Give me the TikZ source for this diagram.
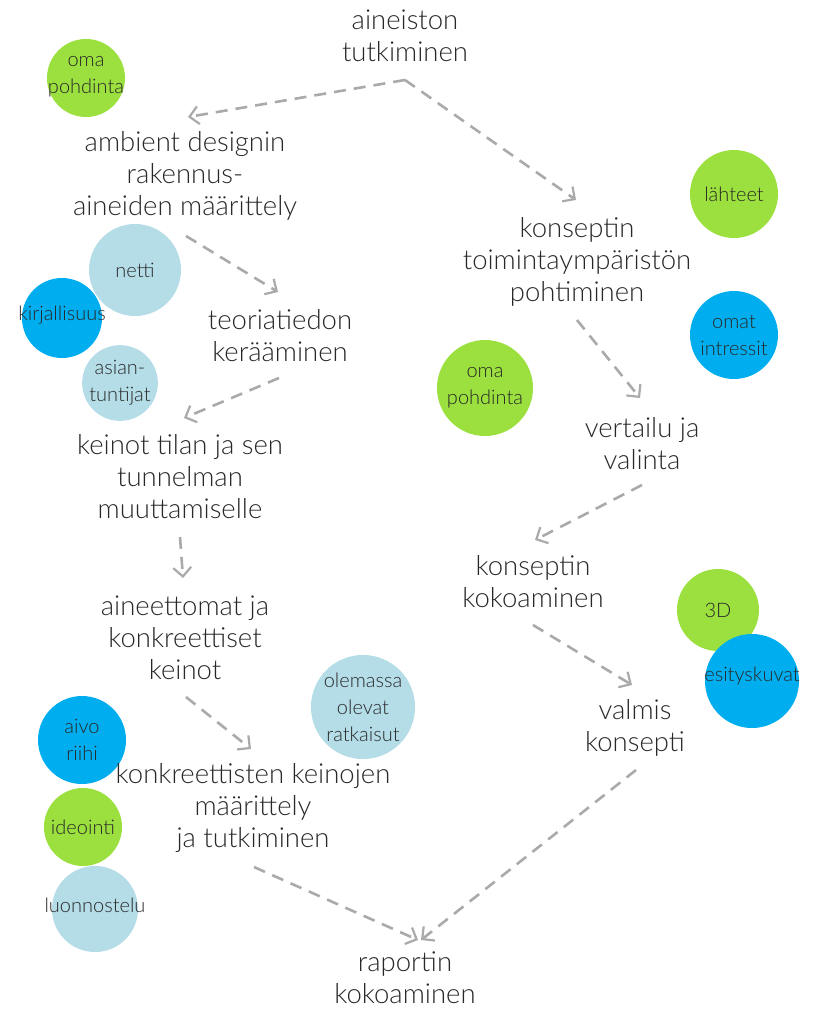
\documentclass[tikz,border=0pt]{standalone}
\usepackage{fontspec}
\setmainfont{Lato}[UprightFont=* Light]
\usetikzlibrary{arrows.meta}
\definecolor{leaf}{RGB}{155,224,62}
\definecolor{sky}{RGB}{0,174,239}
\definecolor{pale}{RGB}{181,221,232}
\definecolor{flow}{RGB}{170,170,170}
\definecolor{ink}{RGB}{40,40,40}
\begin{document}
\begin{tikzpicture}[x=1pt,y=-1pt,
  stage/.style={align=center,text=ink,font=\fontsize{27.5}{32}\selectfont,inner sep=0pt},
  btext/.style={text=ink,align=center,font=\fontsize{20}{27}\selectfont,inner sep=0pt},
  bubble/.style={circle,inner sep=0pt,align=center,text=ink,font=\fontsize{20}{27}\selectfont},
  gbub/.style={bubble,fill=leaf},
  bbub/.style={bubble,fill=sky},
  pbub/.style={bubble,fill=pale},
  link/.style={draw=flow,line width=2.6pt,dash pattern=on 12pt off 8pt,
    -{Straight Barb[length=9pt,width=18pt,line width=2.2pt]}}]
\useasboundingbox (0,0) rectangle (818,1011);

% side resources
\node[gbub,minimum size=78pt] (c1) at (86,78) {};
\node[btext] at (86,77) {oma\\pohdinta};
\node[pbub,minimum size=92pt] (c2) at (135,270) {netti};
\node[bbub,minimum size=80pt] (c3) at (62,318) {};
\node[btext] at (62,315) {kirjallisuus};
\node[pbub,minimum size=74pt] (c4) at (120,383) {asian-\\tuntijat};
\node[gbub,minimum size=88pt] (c5) at (734,194) {lähteet};
\node[bbub,minimum size=88pt] (c6) at (734,335) {omat\\intressit};
\node[gbub,minimum size=96pt] (c7) at (485,388) {oma\\pohdinta};
\node[gbub,minimum size=82pt] (c8) at (718,610) {};
\node[btext] at (718,610) {3D};
\node[bbub,minimum size=94pt] (c9) at (752,681) {};
\node[btext] at (752,676) {esityskuvat};
\node[pbub,minimum size=104pt] (c10) at (363,707) {olemassa\\olevat\\ratkaisut};
\node[bbub,minimum size=88pt] (c11) at (82,740) {aivo\\riihi};
\node[gbub,minimum size=78pt] (c12) at (83,827) {};
\node[btext] at (83,827) {ideointi};
\node[pbub,minimum size=86pt] (c13) at (95,909) {};
\node[btext] at (95,905) {luonnostelu};

% process stages
\node[stage] (s1) at (405,36) {aineiston\\tutkiminen};
\node[stage] (s2) at (185,176) {ambient designin\\rakennus-\\aineiden määrittely};
\node[stage] (s3) at (280,336) {teoriatiedon\\kerääminen};
\node[stage] (s4) at (180,477) {keinot tilan ja sen\\tunnelman\\muuttamiselle};
\node[stage] (s5) at (185,638) {aineettomat ja\\konkreettiset\\keinot};
\node[stage] (s6) at (253,808) {konkreettisten keinojen\\määrittely\\ja tutkiminen};
\node[stage] (s7) at (405,978) {raportin\\kokoaminen};
\node[stage] (s8) at (577,262) {konseptin\\toimintaympäristön\\pohtiminen};
\node[stage] (s9) at (642,444) {vertailu ja\\valinta};
\node[stage] (s10) at (533,582) {konseptin\\kokoaminen};
\node[stage] (s11) at (635,728) {valmis\\konsepti};

% connector anchors
\coordinate (fork) at (405,80);
\coordinate (a1) at (188,117);
\coordinate (a2) at (576,200);
\coordinate (b1) at (186,236);
\coordinate (b2) at (278,292);
\coordinate (d1) at (279,378);
\coordinate (d2) at (184,418);
\coordinate (e1) at (180,537);
\coordinate (e2) at (183,578);
\coordinate (f1) at (186,697);
\coordinate (f2) at (251,749);
\coordinate (g1) at (254,867);
\coordinate (g2) at (418,940);
\coordinate (h1) at (577,320);
\coordinate (h2) at (640,398);
\coordinate (k1) at (642,485);
\coordinate (k2) at (535,540);
\coordinate (m1) at (533,625);
\coordinate (m2) at (632,685);
\coordinate (n1) at (636,770);
\coordinate (n2) at (421,940);

\draw[link] (fork) -- (a1);
\draw[link] (fork) -- (a2);
\draw[link] (b1) -- (b2);
\draw[link] (d1) -- (d2);
\draw[link] (e1) -- (e2);
\draw[link] (f1) -- (f2);
\draw[link] (g1) -- (g2);
\draw[link] (h1) -- (h2);
\draw[link] (k1) -- (k2);
\draw[link] (m1) -- (m2);
\draw[link] (n1) -- (n2);
\end{tikzpicture}
\end{document}
